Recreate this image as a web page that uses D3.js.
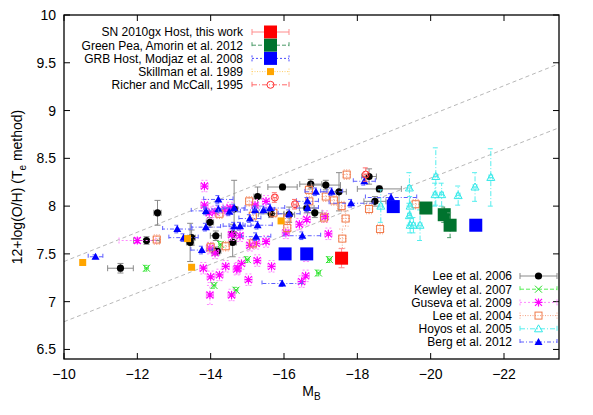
<!DOCTYPE html>
<html>
<head>
<meta charset="utf-8">
<script src="https://cdn.jsdelivr.net/npm/d3@7"></script>
<style>
  body { margin: 0; background: #fff; }
  text { font-family: "Liberation Sans", Arial, sans-serif; }
</style>
</head>
<body>
<div id="chart"></div>
<script>
// each point: [M_B, 12+log(O/H), xerr, yerr]
const sn2010gx = [[-17.57, 7.455, 0.15, 0.1]];
const greenPea = [[-19.87, 7.98, 0.05, 0.05], [-20.37, 7.91, 0.05, 0.08], [-20.53, 7.80, 0.05, 0.13]];
const grbHost = [[-16.03, 7.50, 0, 0], [-16.62, 7.50, 0, 0], [-18.98, 7.995, 0, 0], [-21.23, 7.80, 0, 0]];
const skillman = [[-10.51, 7.41, 0, 0], [-13.48, 7.36, 0, 0], [-13.37, 7.66, 0, 0], [-15.92, 7.845, 0, 0]];
const richer = [[-15.75, 8.09, 0.05, 0.05], [-16.30, 8.02, 0.05, 0.05], [-18.23, 8.33, 0.05, 0.07]];
const lee2006 = [
  [-12.55, 7.93, 0.1, 0.13], [-12.25, 7.64, 0.35, 0.04], [-11.54, 7.35, 0.35, 0.05],
  [-13.48, 7.67, 0.1, 0.08], [-13.44, 7.62, 0.1, 0.2], [-13.98, 7.83, 0.1, 0.05],
  [-14.14, 7.69, 0.15, 0.05], [-14.12, 7.53, 0.1, 0.04], [-14.18, 7.53, 0.1, 0.04],
  [-14.64, 7.97, 0.1, 0.3], [-14.60, 7.71, 0.1, 0.1], [-14.60, 7.62, 0.1, 0.15],
  [-15.28, 8.10, 0.1, 0.1], [-15.96, 8.20, 0.4, 0.03], [-15.65, 7.92, 0.35, 0.04],
  [-16.14, 7.91, 0.15, 0.08], [-16.73, 8.23, 0.3, 0.05], [-17.14, 8.22, 0.4, 0.05],
  [-17.50, 8.15, 0.2, 0.2], [-16.62, 7.98, 0.2, 0.05], [-16.84, 7.93, 0.2, 0.05],
  [-18.32, 8.31, 0.2, 0.08], [-18.60, 8.18, 0.6, 0.03], [-18.48, 8.05, 0.3, 0.05]
];
const kewley = [
  [-12.25, 7.35, 0.05, 0.03], [-14.09, 7.17, 0.05, 0.03], [-14.69, 7.12, 0.05, 0.03],
  [-14.27, 7.60, 0.05, 0.03], [-15.0, 7.44, 0.05, 0.03], [-16.94, 7.30, 0.05, 0.03],
  [-17.24, 7.44, 0.05, 0.03]
];
const guseva = [
  [-13.83, 8.21, 0.1, 0.06], [-13.83, 8.01, 0.1, 0.06], [-12.0, 7.64, 0.5, 0.03],
  [-13.96, 7.93, 0.1, 0.06], [-14.12, 7.94, 0.1, 0.06], [-14.39, 7.96, 0.1, 0.06],
  [-14.57, 7.70, 0.1, 0.06], [-13.80, 7.35, 0.1, 0.06], [-14.0, 7.26, 0.1, 0.06],
  [-14.24, 7.28, 0.1, 0.06], [-14.41, 7.37, 0.1, 0.06], [-14.71, 7.34, 0.1, 0.06],
  [-13.98, 7.07, 0.1, 0.1], [-14.57, 7.07, 0.1, 0.06], [-14.53, 7.98, 0.1, 0.06],
  [-15.51, 8.05, 0.1, 0.06], [-15.21, 8.01, 0.1, 0.06], [-13.98, 7.56, 0.1, 0.06],
  [-14.12, 7.51, 0.1, 0.06], [-15.07, 7.59, 0.1, 0.06], [-15.24, 7.61, 0.1, 0.06],
  [-15.51, 7.63, 0.1, 0.06], [-15.27, 7.43, 0.1, 0.06], [-15.66, 7.37, 0.1, 0.06],
  [-14.84, 7.40, 0.1, 0.06], [-14.74, 7.35, 0.1, 0.06], [-15.03, 7.23, 0.1, 0.06],
  [-16.42, 7.81, 0.1, 0.06], [-16.05, 7.72, 0.1, 0.06], [-16.60, 7.48, 0.1, 0.06],
  [-17.21, 7.71, 0.1, 0.06], [-16.59, 7.27, 0.1, 0.06], [-16.48, 7.21, 0.1, 0.06],
  [-17.12, 7.89, 0.1, 0.06], [-16.62, 7.86, 0.1, 0.06], [-14.80, 7.69, 0.1, 0.06]
];
const lee2004 = [
  [-12.53, 7.65, 0.1, 0.05], [-14.24, 7.92, 0.1, 0.05], [-14.0, 7.57, 0.1, 0.05],
  [-14.41, 7.58, 0.1, 0.05], [-15.05, 8.05, 0.1, 0.05], [-15.15, 7.90, 0.1, 0.05],
  [-16.09, 7.87, 0.1, 0.05], [-16.09, 7.77, 0.1, 0.05], [-15.71, 7.93, 0.1, 0.05],
  [-15.15, 7.61, 0.1, 0.05], [-16.68, 8.17, 0.1, 0.05], [-16.69, 8.05, 0.1, 0.05],
  [-17.14, 8.10, 0.1, 0.05], [-17.36, 8.06, 0.1, 0.05], [-17.09, 7.88, 0.1, 0.05],
  [-17.71, 8.33, 0.1, 0.05], [-17.57, 8.0, 0.1, 0.05], [-17.68, 7.87, 0.1, 0.08],
  [-17.59, 7.66, 0.1, 0.1], [-18.32, 7.97, 0.1, 0.05], [-18.62, 7.76, 0.1, 0.05],
  [-19.59, 8.02, 0.1, 0.05]
];
const hoyos = [
  [-18.64, 8.0, 0.05, 0.17], [-19.42, 8.19, 0.05, 0.16], [-19.44, 8.0, 0.05, 0.1],
  [-19.42, 7.90, 0.05, 0.1], [-19.44, 7.80, 0.05, 0.08], [-19.53, 7.80, 0.05, 0.08],
  [-19.71, 7.80, 0.05, 0.16], [-20.14, 8.31, 0.05, 0.3], [-20.12, 8.12, 0.05, 0.12],
  [-20.30, 8.12, 0.05, 0.12], [-20.75, 8.11, 0.05, 0.1], [-21.21, 8.20, 0.05, 0.15],
  [-21.64, 8.30, 0.05, 0.3]
];
const berg = [
  [-10.86, 7.47, 0.2, 0.02], [-13.09, 7.76, 0.4, 0.04], [-13.26, 7.67, 0.4, 0.04],
  [-13.87, 7.95, 0.4, 0.04], [-14.21, 8.07, 0.4, 0.04], [-13.87, 7.78, 0.4, 0.04],
  [-14.21, 7.97, 0.4, 0.04], [-14.51, 7.94, 0.3, 0.04], [-13.76, 7.54, 0.3, 0.04],
  [-14.64, 7.79, 0.3, 0.04], [-14.64, 7.98, 0.3, 0.04], [-14.80, 7.79, 0.3, 0.04],
  [-15.07, 7.87, 0.3, 0.04], [-15.21, 7.96, 0.3, 0.04], [-15.44, 7.96, 0.3, 0.04],
  [-15.28, 7.80, 0.4, 0.04], [-15.24, 7.68, 0.4, 0.04], [-15.62, 7.98, 0.4, 0.04],
  [-15.95, 7.19, 0.55, 0.03], [-16.14, 7.92, 0.3, 0.04], [-16.50, 7.69, 0.5, 0.04],
  [-16.64, 8.05, 0.3, 0.04], [-16.64, 7.98, 0.3, 0.04], [-16.87, 8.15, 0.3, 0.04],
  [-17.30, 8.15, 0.3, 0.04], [-18.19, 8.26, 0.3, 0.04], [-17.83, 8.03, 0.6, 0.04],
  [-18.92, 8.09, 0.7, 0.04]
];
const upperLine = [[-10, 7.42], [-23.5, 9.49]];
const lowerLine = [[-10, 6.79], [-23.5, 8.82]];
const xTicks = [-10, -12, -14, -16, -18, -20, -22];
const yTicks = [6.5, 7, 7.5, 8, 8.5, 9, 9.5, 10];

const W = 593, H = 415;
const margin = { top: 15, right: 34, bottom: 56, left: 64 };
const width = W - margin.left - margin.right,
      height = H - margin.top - margin.bottom;

const svg = d3.select("#chart").append("svg")
  .attr("width", W).attr("height", H);
const g = svg.append("g")
  .attr("transform", "translate(" + margin.left + "," + margin.top + ")");

const x = d3.scaleLinear().domain([-10, -23.5]).range([0, width]);
const y = d3.scaleLinear().domain([6.4, 10]).range([height, 0]);

// dashed reference lines
const line = d3.line().x(d => x(d[0])).y(d => y(d[1]));
[upperLine, lowerLine].forEach(l => {
  g.append("path").attr("d", line(l))
    .attr("fill", "none").attr("stroke", "#b8b8b8")
    .attr("stroke-width", 1).attr("stroke-dasharray", "4,3");
});

// marker shapes
function drawPoint(sel, shape, color, cx, cy) {
  if (shape === "bigsquare") {
    sel.append("rect").attr("x", cx - 6.5).attr("y", cy - 6.5).attr("width", 13).attr("height", 13).attr("fill", color);
  } else if (shape === "smallsquare") {
    sel.append("rect").attr("x", cx - 3.5).attr("y", cy - 3.5).attr("width", 7).attr("height", 7).attr("fill", color);
  } else if (shape === "opensquare") {
    sel.append("rect").attr("x", cx - 3.5).attr("y", cy - 3.5).attr("width", 7).attr("height", 7)
      .attr("fill", "none").attr("stroke", color).attr("stroke-width", 1);
  } else if (shape === "circle") {
    sel.append("circle").attr("cx", cx).attr("cy", cy).attr("r", 3.6).attr("fill", color);
  } else if (shape === "opencircle") {
    sel.append("circle").attr("cx", cx).attr("cy", cy).attr("r", 3.5)
      .attr("fill", "none").attr("stroke", color).attr("stroke-width", 1);
  } else if (shape === "cross") {
    sel.append("path").attr("d", `M${cx-3.5},${cy-3.5}L${cx+3.5},${cy+3.5}M${cx-3.5},${cy+3.5}L${cx+3.5},${cy-3.5}`)
      .attr("stroke", color).attr("stroke-width", 1);
  } else if (shape === "star") {
    sel.append("path").attr("d", `M${cx-3.5},${cy-3.5}L${cx+3.5},${cy+3.5}M${cx-3.5},${cy+3.5}L${cx+3.5},${cy-3.5}M${cx-4},${cy}L${cx+4},${cy}M${cx},${cy-4}L${cx},${cy+4}`)
      .attr("stroke", color).attr("stroke-width", 1.2);
  } else if (shape === "opentri") {
    sel.append("path").attr("d", `M${cx},${cy-4}L${cx+4},${cy+3}L${cx-4},${cy+3}Z`)
      .attr("fill", "none").attr("stroke", color).attr("stroke-width", 1);
  } else if (shape === "tri") {
    sel.append("path").attr("d", `M${cx},${cy-4}L${cx+4},${cy+3}L${cx-4},${cy+3}Z`)
      .attr("fill", color);
  }
}

const series = [
  { name: "Lee et al. 2006", data: lee2006, shape: "circle", color: "#000000", bar: "#8a8a8a", dash: null, key: 1 },
  { name: "Kewley et al. 2007", data: kewley, shape: "cross", color: "#22dd22", bar: "#55ee55", dash: "4,2", key: 1 },
  { name: "Guseva et al. 2009", data: guseva, shape: "star", color: "#ff00ff", bar: "#ff88ff", dash: "2,2", key: 1 },
  { name: "Lee et al. 2004", data: lee2004, shape: "opensquare", color: "#f07a4a", bar: "#f5a080", dash: "1,1.5", key: 1 },
  { name: "Hoyos et al. 2005", data: hoyos, shape: "opentri", color: "#33e8e8", bar: "#55eeee", dash: "5,2,1,2", key: 1 },
  { name: "Berg et al. 2012", data: berg, shape: "tri", color: "#0000ff", bar: "#5f5fff", dash: "4,2,1,2", key: 1 },
  { name: "SN 2010gx Host, this work", data: sn2010gx, shape: "bigsquare", color: "#ff0000", bar: "#ff8c8c", dash: null, key: 0 },
  { name: "Green Pea, Amorin et al. 2012", data: greenPea, shape: "bigsquare", color: "#00732e", bar: "#4a9a68", dash: "4,2", key: 0 },
  { name: "GRB Host, Modjaz et al. 2008", data: grbHost, shape: "bigsquare", color: "#0000ff", bar: "#4a4aff", dash: "2,2", key: 0 },
  { name: "Skillman et al. 1989", data: skillman, shape: "smallsquare", color: "#ffa500", bar: "#ffcf6a", dash: "1,1.5", key: 0 },
  { name: "Richer and McCall, 1995", data: richer, shape: "opencircle", color: "#ff3030", bar: "#ff6a6a", dash: "5,2,1,2", key: 0 }
];

const cap = 3;
series.forEach(s => {
  const sg = g.append("g");
  s.data.forEach(d => {
    const cx = x(d[0]), cy = y(d[1]);
    const x0 = x(d[0] - d[2]), x1 = x(d[0] + d[2]);
    const y0 = y(d[1] - d[3]), y1 = y(d[1] + d[3]);
    let p = "";
    if (d[2] > 0) p += `M${x0},${cy}L${x1},${cy}M${x0},${cy-cap}L${x0},${cy+cap}M${x1},${cy-cap}L${x1},${cy+cap}`;
    if (d[3] > 0) p += `M${cx},${y0}L${cx},${y1}M${cx-cap},${y0}L${cx+cap},${y0}M${cx-cap},${y1}L${cx+cap},${y1}`;
    if (p) sg.append("path").attr("d", p).attr("fill", "none")
      .attr("stroke", s.bar).attr("stroke-width", 1)
      .attr("stroke-dasharray", s.dash);
    drawPoint(sg, s.shape, s.color, cx, cy);
  });
});

// border and ticks (gnuplot style, inward, mirrored)
g.append("rect").attr("width", width).attr("height", height)
  .attr("fill", "none").attr("stroke", "#000").attr("stroke-width", 1.3);

const tl = 6;
xTicks.forEach(t => {
  g.append("line").attr("x1", x(t)).attr("x2", x(t)).attr("y1", height).attr("y2", height - tl).attr("stroke", "#000");
  g.append("line").attr("x1", x(t)).attr("x2", x(t)).attr("y1", 0).attr("y2", tl).attr("stroke", "#000");
  g.append("text").attr("x", x(t)).attr("y", height + 20).attr("text-anchor", "middle")
    .attr("font-size", 14).text(d3.format("d")(t).replace("-", "-"));
});
yTicks.forEach(t => {
  g.append("line").attr("x1", 0).attr("x2", tl).attr("y1", y(t)).attr("y2", y(t)).attr("stroke", "#000");
  g.append("line").attr("x1", width).attr("x2", width - tl).attr("y1", y(t)).attr("y2", y(t)).attr("stroke", "#000");
  g.append("text").attr("x", -8).attr("y", y(t)).attr("dy", "0.36em").attr("text-anchor", "end")
    .attr("font-size", 14).text(t);
});

// axis titles
const xl = svg.append("text").attr("x", margin.left + width / 2).attr("y", 396)
  .attr("text-anchor", "middle").attr("font-size", 14);
xl.append("tspan").text("M");
xl.append("tspan").attr("font-size", 10).attr("dy", 4).text("B");

const yl = svg.append("text").attr("transform", "translate(22," + (margin.top + height / 2) + ") rotate(-90)")
  .attr("text-anchor", "middle").attr("font-size", 14);
yl.append("tspan").text("12+log(O/H) (T");
yl.append("tspan").attr("font-size", 10).attr("dy", 4).text("e");
yl.append("tspan").attr("dy", -4).text(" method)");

// legends
function legend(items, textRight, x0, x1, yStart) {
  items.forEach((s, i) => {
    const cy = yStart + i * 13.2;
    svg.append("text").attr("x", textRight).attr("y", cy).attr("dy", "0.36em")
      .attr("text-anchor", "end").attr("font-size", 12).text(s.name);
    const p = `M${x0},${cy}L${x1},${cy}M${x0},${cy-cap}L${x0},${cy+cap}M${x1},${cy-cap}L${x1},${cy+cap}`;
    svg.append("path").attr("d", p).attr("fill", "none").attr("stroke", s.bar)
      .attr("stroke-width", 1).attr("stroke-dasharray", s.dash);
    drawPoint(svg, s.shape, s.color, (x0 + x1) / 2, cy);
  });
}
legend(series.filter(s => s.key === 0), 243, 252, 289, 32);
legend(series.filter(s => s.key === 1), 512, 520, 557, 276);
</script>
</body>
</html>
